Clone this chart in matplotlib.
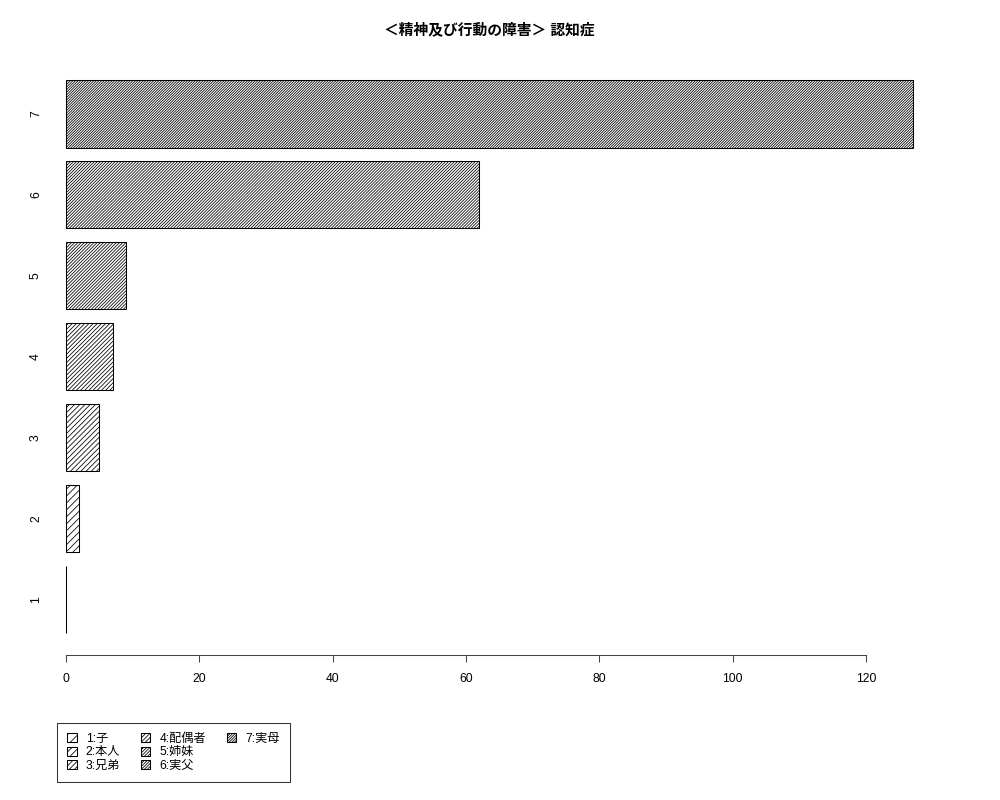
import matplotlib
matplotlib.use("Agg")
import matplotlib.pyplot as plt
from matplotlib.patches import Patch

plt.rcParams['font.family'] = ['Liberation Sans', 'Noto Sans CJK JP', 'DejaVu Sans']
plt.rcParams['hatch.linewidth'] = 0.45

title = "＜精神及び行動の障害＞ 認知症"
bar_names = ["1", "2", "3", "4", "5", "6", "7"]
values = [0, 2, 5, 7, 9, 62, 127]
legend_labels = ["1:子", "2:本人", "3:兄弟", "4:配偶者", "5:姉妹", "6:実父", "7:実母"]
hatch_counts = [4, 6, 8, 10, 13, 14, 16]
xticks = [0, 20, 40, 60, 80, 100, 120]

hatches = ["/" * n for n in hatch_counts]
# R style barplot: width 1, space 0.2
centers = [0.7 + 1.2 * i for i in range(len(values))]

fig = plt.figure(figsize=(8, 6.4), dpi=125)
ax = fig.add_axes([0.032, 0.181, 0.9145, 0.7465])

for c, v, h in zip(centers, values, hatches):
    ax.barh(c, v, height=1.0, left=0, color="white", edgecolor="black",
            linewidth=0.6, hatch=h)

ax.set_xlim(-0.04 * 127, 127 * 1.04)
ax.set_ylim(0.2 - 0.04 * 8.2, 8.4 + 0.04 * 8.2)

for s in ["top", "right", "left"]:
    ax.spines[s].set_visible(False)
ax.spines["bottom"].set_bounds(0, 120)
ax.spines["bottom"].set_linewidth(0.6)
ax.spines["bottom"].set_color("#444444")

ax.set_xticks(xticks)
ax.set_xticklabels([str(t) for t in xticks], fontsize=7)
ax.tick_params(axis="x", length=4, width=0.6, color="#444444", pad=6)

ax.set_yticks(centers)
ax.set_yticklabels(bar_names, fontsize=7, rotation=90, va="center", ha="center")
ax.tick_params(axis="y", length=0, pad=-2.3)

fig.text(0.489, 0.963, title, ha="center", va="center", fontsize=8.5, fontweight="bold")

# R fills legend column-wise 3,3,1 -> pad with blank entries
handles = [Patch(facecolor="white", edgecolor="black", linewidth=0.6, hatch=h)
           for h in hatches]
labels = list(legend_labels)
blank = Patch(facecolor="none", edgecolor="none")
handles += [blank, blank]
labels += ["", ""]
leg = fig.legend(handles, labels, ncol=3,
                 loc="lower left", bbox_to_anchor=(0.051, 0.015),
                 fontsize=7, frameon=True, fancybox=False, edgecolor="black",
                 handlelength=0.75, handleheight=0.75, handletextpad=0.75,
                 columnspacing=1.75, labelspacing=0.1, borderpad=0.85)
leg.get_frame().set_linewidth(0.6)

fig.savefig("out.png", dpi=125, facecolor="white")
